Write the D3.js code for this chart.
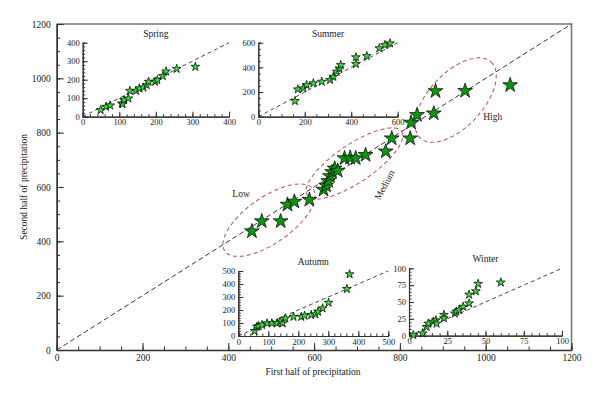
<!DOCTYPE html>
<html>
<head>
<meta charset="utf-8">
<script src="https://cdn.jsdelivr.net/npm/d3@7"></script>
<style>
  body { margin: 0; background: #fff; }
  text { font-family: "Liberation Serif", "DejaVu Serif", serif; fill: #222; }
  .domain, .tick line { stroke: #333; }
</style>
</head>
<body>
<script>
// main panel: first half vs second half of precipitation
var mainFirst  = [455, 478, 522, 538, 554, 589, 622, 628, 633, 637, 642, 648, 655, 671, 684, 697, 720, 767, 781, 824, 826, 840, 879, 883, 952, 1057];
var mainSecond = [437, 474, 474, 535, 546, 553, 590, 605, 622, 640, 655, 668, 660, 706, 708, 706, 718, 731, 779, 779, 837, 865, 871, 953, 954, 975];

// seasonal insets
var springFirst  = [49, 64, 75, 107, 109, 113, 125, 129, 146, 155, 166, 175, 180, 198, 204, 219, 228, 257, 308];
var springSecond = [36, 54, 61, 72, 68, 90, 99, 140, 140, 153, 158, 171, 189, 189, 198, 220, 245, 259, 270];

var summerFirst  = [158, 170, 194, 208, 237, 273, 309, 323, 337, 349, 355, 420, 420, 467, 521, 545, 567];
var summerSecond = [127, 222, 230, 257, 271, 284, 298, 324, 365, 392, 419, 427, 482, 492, 555, 581, 595];

var autumnFirst  = [54, 62, 68, 79, 96, 112, 129, 140, 148, 157, 184, 210, 221, 243, 257, 266, 281, 301, 362, 371];
var autumnSecond = [38, 72, 77, 85, 98, 98, 98, 110, 98, 136, 148, 148, 156, 162, 167, 187, 213, 256, 362, 475];

var winterFirst  = [2.8, 8.9, 11.5, 12.6, 15.9, 17.6, 18, 22.8, 22.8, 30, 31, 32.8, 35.4, 39.3, 39.3, 43.7, 45.2, 60];
var winterSecond = [1, 3.5, 13, 18, 21, 23, 18, 31, 26, 33, 36, 38, 43, 48, 61, 66, 77, 79];

// groups circled on the main panel (centre in data units)
var groupNames   = ["Low", "Medium", "High"];
var groupCenterX = [495, 694, 930];
var groupCenterY = [478, 687, 920];

var W = 600, H = 398;
var svg = d3.select("body").append("svg")
    .attr("width", W)
    .attr("height", H);

var star = d3.symbol().type(d3.symbolStar);
var fmt = d3.format("d");

// ---- main panel ----
var x = d3.scaleLinear().domain([0, 1200]).range([56.7, 571.5]);
var y = d3.scaleLinear().domain([0, 1200]).range([350, 24]);

// frame top / right
svg.append("path")
    .attr("d", "M" + x(0) + "," + y(1200) + "H" + x(1200) + "V" + y(0))
    .attr("fill", "none")
    .attr("stroke", "#777")
    .attr("stroke-width", 1.6);

function addAxes(g, xs, ys, xMajor, xMinor, yMajor, yMinor, big, fs) {
  var xd = xs.domain(), yd = ys.domain();
  // minor ticks first
  g.append("g")
      .attr("transform", "translate(0," + ys(yd[0]) + ")")
      .call(d3.axisBottom(xs).tickValues(d3.range(xd[0], xd[1] + 1e-9, xMinor)).tickSize(big ? -3.5 : -2.5).tickFormat(""));
  g.append("g")
      .attr("transform", "translate(" + xs(xd[0]) + ",0)")
      .call(d3.axisLeft(ys).tickValues(d3.range(yd[0], yd[1] + 1e-9, yMinor)).tickSize(big ? -3.5 : -2.5).tickFormat(""));
  var ax = g.append("g")
      .attr("transform", "translate(0," + ys(yd[0]) + ")")
      .call(d3.axisBottom(xs).tickValues(d3.range(xd[0], xd[1] + 1e-9, xMajor)).tickFormat(fmt)
        .tickSize(big ? -7 : -5).tickSizeOuter(0).tickPadding(big ? 4 : 2.5));
  var ay = g.append("g")
      .attr("transform", "translate(" + xs(xd[0]) + ",0)")
      .call(d3.axisLeft(ys).tickValues(d3.range(yd[0], yd[1] + 1e-9, yMajor)).tickFormat(fmt)
        .tickSize(big ? -7 : -5).tickSizeOuter(0).tickPadding(big ? 6 : 3));
  [ax, ay].forEach(function(a) {
    a.selectAll("text").attr("font-size", fs).attr("fill", "#222");
    a.select(".domain").attr("stroke-width", big ? 1.6 : 1.2);
    a.selectAll(".tick line").attr("stroke-width", 1.1);
  });
}

var main = svg.append("g");
addAxes(main, x, y, 200, 50, 200, 50, true, 9.5);

// 1:1 line
main.append("line")
    .attr("x1", x(0)).attr("y1", y(0))
    .attr("x2", x(1200)).attr("y2", y(1200))
    .attr("stroke", "#333")
    .attr("stroke-width", 1)
    .attr("stroke-dasharray", "5,3");

// group ellipses
var ellRx = [54, 57, 52], ellRy = [23, 19, 27], ellAng = [-35, -34, -47];
main.selectAll(".grp")
  .data(groupNames)
  .enter().append("ellipse")
    .attr("transform", function(d, i) {
      return "translate(" + x(groupCenterX[i]) + "," + y(groupCenterY[i]) + ") rotate(" + ellAng[i] + ")";
    })
    .attr("rx", function(d, i) { return ellRx[i]; })
    .attr("ry", function(d, i) { return ellRy[i]; })
    .attr("fill", "none")
    .attr("stroke", "#c0504d")
    .attr("stroke-width", 1)
    .attr("stroke-dasharray", "4,3");

// group labels
var lblDx = [-28, 33, 37], lblDy = [-23, 23, 20], lblRot = [0, -62, 0];
main.selectAll(".glbl")
  .data(groupNames)
  .enter().append("text")
    .attr("transform", function(d, i) {
      return "translate(" + (x(groupCenterX[i]) + lblDx[i]) + "," + (y(groupCenterY[i]) + lblDy[i]) + ") rotate(" + lblRot[i] + ")";
    })
    .attr("text-anchor", "middle")
    .attr("font-size", 9.5)
    .text(function(d) { return d; });

main.selectAll(".mstar")
  .data(mainFirst)
  .enter().append("path")
    .attr("transform", function(d, i) { return "translate(" + x(d) + "," + y(mainSecond[i]) + ")"; })
    .attr("d", star.size(68))
    .attr("fill", "#0c960c")
    .attr("stroke", "#111")
    .attr("stroke-width", 0.8);

// axis titles
svg.append("text")
    .attr("x", 313).attr("y", 375)
    .attr("text-anchor", "middle")
    .attr("font-size", 9.5)
    .text("First half of precipitation");

svg.append("text")
    .attr("transform", "translate(27," + 187 + ") rotate(-90)")
    .attr("text-anchor", "middle")
    .attr("font-size", 9.5)
    .text("Second half of precipitation");

// ---- insets ----
var insets = [
  { title: "Spring", xs: springFirst, ys: springSecond, max: 400, xr: [82.7, 229], yr: [116.7, 42.7], xMaj: 100, xMin: 20, yMaj: 100, yMin: 20 },
  { title: "Summer", xs: summerFirst, ys: summerSecond, max: 600, xr: [258.3, 397.7], yr: [116.7, 42.7], xMaj: 200, xMin: 50, yMaj: 200, yMin: 50 },
  { title: "Autumn", xs: autumnFirst, ys: autumnSecond, max: 500, xr: [238.3, 388.3], yr: [336, 271], xMaj: 100, xMin: 20, yMaj: 100, yMin: 20 },
  { title: "Winter", xs: winterFirst, ys: winterSecond, max: 100, xr: [409, 562], yr: [335.7, 268.3], xMaj: 25, xMin: 5, yMaj: 25, yMin: 5 }
];

insets.forEach(function(c) {
  var ix = d3.scaleLinear().domain([0, c.max]).range(c.xr);
  var iy = d3.scaleLinear().domain([0, c.max]).range(c.yr);
  var g = svg.append("g");

  addAxes(g, ix, iy, c.xMaj, c.xMin, c.yMaj, c.yMin, false, 8.5);

  g.append("line")
      .attr("x1", ix(0)).attr("y1", iy(0))
      .attr("x2", ix(c.max)).attr("y2", iy(c.max))
      .attr("stroke", "#333")
      .attr("stroke-width", 0.9)
      .attr("stroke-dasharray", "4,3");

  g.selectAll(".istar")
    .data(c.xs)
    .enter().append("path")
      .attr("transform", function(d, i) { return "translate(" + ix(d) + "," + iy(c.ys[i]) + ")"; })
      .attr("d", star.size(24))
      .attr("fill", "#33dd33")
      .attr("stroke", "#111")
      .attr("stroke-width", 0.8);

  g.append("text")
      .attr("x", (c.xr[0] + c.xr[1]) / 2)
      .attr("y", c.yr[1] - 6)
      .attr("text-anchor", "middle")
      .attr("font-size", 9.5)
      .text(c.title);
});
</script>
</body>
</html>
